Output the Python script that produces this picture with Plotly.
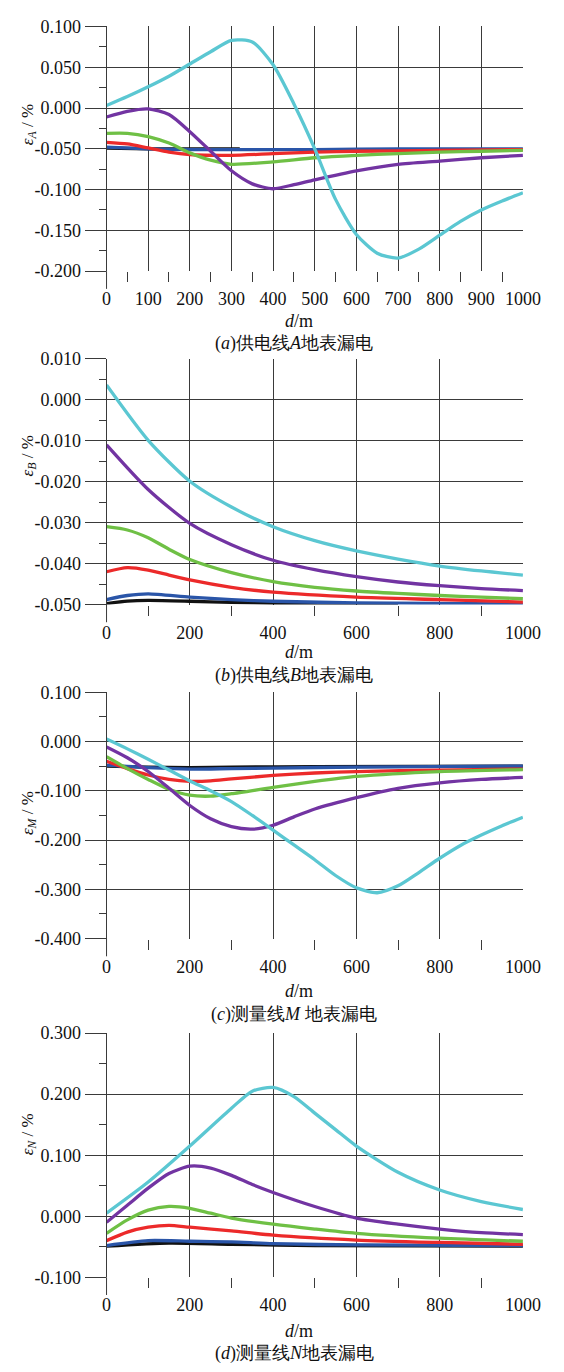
import plotly.graph_objects as go

# ---------------- data ----------------
# (a) supply line A
xa_cyan = [0, 50, 100, 150, 200, 250, 300, 350, 400, 450, 500, 550, 600, 650, 700, 750, 800, 850, 900, 950, 1000]
ya_cyan = [0.003, 0.014, 0.026, 0.039, 0.054, 0.069, 0.083, 0.081, 0.053, 0.005, -0.050, -0.112, -0.155, -0.178, -0.184, -0.173, -0.156, -0.139, -0.125, -0.114, -0.104]
xa_purple = [0, 50, 100, 150, 200, 250, 300, 350, 400, 450, 500, 600, 700, 800, 900, 1000]
ya_purple = [-0.011, -0.004, -0.001, -0.008, -0.029, -0.053, -0.077, -0.093, -0.099, -0.094, -0.088, -0.077, -0.069, -0.065, -0.061, -0.058]
xa_green = [0, 50, 100, 150, 200, 250, 300, 400, 500, 600, 700, 800, 900, 1000]
ya_green = [-0.031, -0.031, -0.035, -0.043, -0.055, -0.064, -0.069, -0.066, -0.061, -0.058, -0.056, -0.054, -0.053, -0.052]
xa_red = [0, 50, 100, 150, 200, 300, 400, 500, 600, 800, 1000]
ya_red = [-0.042, -0.044, -0.049, -0.054, -0.057, -0.058, -0.056, -0.054, -0.053, -0.052, -0.051]
xa_blue = [0, 100, 200, 300, 500, 700, 1000]
ya_blue = [-0.048, -0.050, -0.051, -0.051, -0.051, -0.050, -0.050]
xa_black = [0, 100, 200, 320]
ya_black = [-0.049, -0.050, -0.050, -0.050]

# (b) supply line B
xb = [0, 100, 200, 300, 400, 500, 600, 700, 800, 900, 1000]
yb_cyan = [0.0036, -0.0099, -0.0199, -0.0262, -0.0310, -0.0344, -0.0369, -0.0389, -0.0406, -0.0418, -0.0428]
yb_purple = [-0.0110, -0.0219, -0.0302, -0.0354, -0.0392, -0.0415, -0.0432, -0.0445, -0.0454, -0.0461, -0.0466]
xb_green = [0, 50, 100, 150, 200, 300, 400, 500, 600, 700, 800, 900, 1000]
yb_green = [-0.0310, -0.0318, -0.0337, -0.0365, -0.0390, -0.0422, -0.0444, -0.0458, -0.0467, -0.0473, -0.0478, -0.0482, -0.0486]
xb_red = [0, 50, 100, 150, 200, 300, 400, 600, 800, 1000]
yb_red = [-0.0420, -0.0410, -0.0416, -0.0428, -0.0440, -0.0458, -0.0470, -0.0482, -0.0488, -0.0494]
xb_blue = [0, 50, 100, 200, 300, 400, 600, 1000]
yb_blue = [-0.0488, -0.0478, -0.0474, -0.0482, -0.0488, -0.0492, -0.0496, -0.0499]
xb_black = [0, 50, 100, 200, 300, 400, 700]
yb_black = [-0.0498, -0.0492, -0.0490, -0.0492, -0.0495, -0.0497, -0.0499]

# (c) measuring line M
xc_cyan = [0, 50, 100, 150, 200, 250, 300, 350, 400, 450, 500, 550, 600, 650, 700, 750, 800, 850, 900, 950, 1000]
yc_cyan = [0.005, -0.015, -0.036, -0.058, -0.080, -0.100, -0.122, -0.150, -0.180, -0.210, -0.240, -0.272, -0.297, -0.307, -0.293, -0.266, -0.237, -0.211, -0.190, -0.171, -0.154]
xc_purple = [0, 50, 100, 150, 200, 250, 300, 350, 400, 450, 500, 600, 700, 800, 900, 1000]
yc_purple = [-0.011, -0.033, -0.061, -0.095, -0.130, -0.157, -0.173, -0.178, -0.170, -0.153, -0.137, -0.114, -0.095, -0.084, -0.077, -0.073]
xc_green = [0, 50, 100, 150, 200, 250, 300, 400, 500, 600, 800, 1000]
yc_green = [-0.031, -0.055, -0.077, -0.097, -0.109, -0.111, -0.106, -0.093, -0.081, -0.071, -0.061, -0.057]
xc_red = [0, 50, 100, 150, 200, 250, 300, 400, 500, 600, 800, 1000]
yc_red = [-0.040, -0.055, -0.068, -0.077, -0.081, -0.080, -0.076, -0.069, -0.064, -0.061, -0.058, -0.056]
xc_blue = [0, 100, 200, 300, 400, 600, 1000]
yc_blue = [-0.048, -0.053, -0.056, -0.055, -0.054, -0.052, -0.050]
xc_black = [0, 100, 200, 300, 500, 1000]
yc_black = [-0.050, -0.052, -0.053, -0.052, -0.051, -0.050]

# (d) measuring line N
xd_cyan = [0, 100, 200, 300, 350, 400, 450, 500, 550, 600, 700, 800, 900, 1000]
yd_cyan = [0.005, 0.056, 0.115, 0.177, 0.205, 0.211, 0.196, 0.169, 0.142, 0.115, 0.072, 0.043, 0.024, 0.011]
xd_purple = [0, 50, 100, 150, 200, 250, 300, 350, 400, 500, 600, 700, 800, 900, 1000]
yd_purple = [-0.010, 0.018, 0.046, 0.070, 0.082, 0.079, 0.067, 0.052, 0.039, 0.016, -0.003, -0.013, -0.021, -0.027, -0.030]
xd_green = [0, 50, 100, 150, 200, 250, 300, 400, 500, 600, 800, 1000]
yd_green = [-0.028, -0.006, 0.010, 0.016, 0.013, 0.005, -0.003, -0.013, -0.021, -0.028, -0.036, -0.041]
xd_red = [0, 50, 100, 150, 200, 300, 400, 600, 800, 1000]
yd_red = [-0.040, -0.026, -0.018, -0.015, -0.018, -0.024, -0.031, -0.039, -0.043, -0.046]
xd_blue = [0, 100, 200, 300, 400, 600, 1000]
yd_blue = [-0.048, -0.040, -0.041, -0.042, -0.045, -0.047, -0.048]
xd_black = [0, 150, 300, 500, 1000]
yd_black = [-0.049, -0.044, -0.046, -0.048, -0.049]

# tick labels
ya_ticks = [0.100, 0.050, 0.000, -0.050, -0.100, -0.150, -0.200]
ya_text = ["0.100", "0.050", "0.000", "-0.050", "-0.100", "-0.150", "-0.200"]
yb_ticks = [0.010, 0.000, -0.010, -0.020, -0.030, -0.040, -0.050]
yb_text = ["0.010", "0.000", "-0.010", "-0.020", "-0.030", "-0.040", "-0.050"]
yc_ticks = [0.100, 0.000, -0.100, -0.200, -0.300, -0.400]
yc_text = ["0.100", "0.000", "-0.100", "-0.200", "-0.300", "-0.400"]
yd_ticks = [0.300, 0.200, 0.100, 0.000, -0.100]
yd_text = ["0.300", "0.200", "0.100", "0.000", "-0.100"]

captions = ["(<i>a</i>)供电线<i>A</i>地表漏电", "(<i>b</i>)供电线<i>B</i>地表漏电",
            "(<i>c</i>)测量线<i>M</i> 地表漏电", "(<i>d</i>)测量线<i>N</i>地表漏电"]
ylabels = ["A", "B", "M", "N"]

# ---------------- style ----------------
COL = dict(cyan="#5bc7d2", purple="#7234a2", green="#6fc045", red="#ec2a2a", blue="#2a55a8", black="#111111")
W, H = 564, 1372
FONT = "Liberation Serif, Times New Roman, serif"
GRID = "#3a3a3a"

panels = [
    dict(top=16.7, bot=265.0, rng=[-0.2, 0.1], ticks=(ya_ticks, ya_text), ydt=0.025, xdt=100,
         dm_y=316, cap_y=338, lab_y=116),
    dict(top=354.0, bot=603.3, rng=[-0.05, 0.01], ticks=(yb_ticks, yb_text), ydt=0.005, xdt=200,
         dm_y=652, cap_y=675, lab_y=452),
    dict(top=692.3, bot=942.3, rng=[-0.4, 0.1], ticks=(yc_ticks, yc_text), ydt=0.05, xdt=200,
         dm_y=996, cap_y=1019, lab_y=815),
    dict(top=1038.3, bot=1286.0, rng=[-0.1, 0.3], ticks=(yd_ticks, yd_text), ydt=0.05, xdt=200,
         dm_y=1341, cap_y=1363, lab_y=1141),
]
XL, XR = 106.7, 540.0

series = [
    [(xa_black, ya_black, "black"), (xa_blue, ya_blue, "blue"), (xa_red, ya_red, "red"),
     (xa_green, ya_green, "green"), (xa_purple, ya_purple, "purple"), (xa_cyan, ya_cyan, "cyan")],
    [(xb_black, yb_black, "black"), (xb_blue, yb_blue, "blue"), (xb_red, yb_red, "red"),
     (xb_green, yb_green, "green"), (xb, yb_purple, "purple"), (xb, yb_cyan, "cyan")],
    [(xc_black, yc_black, "black"), (xc_blue, yc_blue, "blue"), (xc_red, yc_red, "red"),
     (xc_green, yc_green, "green"), (xc_purple, yc_purple, "purple"), (xc_cyan, yc_cyan, "cyan")],
    [(xd_black, yd_black, "black"), (xd_blue, yd_blue, "blue"), (xd_red, yd_red, "red"),
     (xd_green, yd_green, "green"), (xd_purple, yd_purple, "purple"), (xd_cyan, yd_cyan, "cyan")],
]

fig = go.Figure()
TF = dict(family=FONT, size=18, color="#111")
layout = dict(width=W, height=H, margin=dict(l=0, r=0, t=0, b=0), showlegend=False,
              paper_bgcolor="white", plot_bgcolor="white", font=TF)
annotations = []
shapes = []


def py(px):
    return 1 - px / H


for i, p in enumerate(panels):
    n = "" if i == 0 else str(i + 1)
    xa, yaname = "x" + n, "y" + n
    for xs, ys, c in series[i]:
        fig.add_trace(go.Scatter(x=xs, y=ys, mode="lines",
                                 line=dict(color=COL[c], width=3.3, shape="spline", smoothing=0.7),
                                 xaxis=xa, yaxis=yaname, hoverinfo="skip"))
    tv, tt = p["ticks"]
    layout["xaxis" + n] = dict(domain=[XL / W, XR / W], anchor=yaname, range=[0, 1000], dtick=p["xdt"], tick0=0,
                              showgrid=True, gridcolor=GRID, gridwidth=1, zeroline=False, showline=False,
                              ticks="", ticklabelstandoff=15, tickfont=TF,
                              minor=dict(dtick=p["xdt"] / 2, tick0=0, ticks="outside", ticklen=10,
                                         tickcolor=GRID, tickwidth=1, showgrid=False))
    layout["yaxis" + n] = dict(domain=[py(p["bot"]), py(p["top"])], anchor=xa, range=p["rng"],
                              tickmode="array", tickvals=tv, ticktext=tt,
                              showgrid=True, gridcolor=GRID, gridwidth=1, zeroline=False,
                              showline=True, linecolor=GRID, linewidth=1,
                              ticks="outside", ticklen=21, tickcolor=GRID, tickwidth=1,
                              ticklabelstandoff=0, tickfont=TF,
                              minor=dict(dtick=p["ydt"], tick0=0, ticks="outside", ticklen=7,
                                         tickcolor=GRID, tickwidth=1, showgrid=False))
    shapes.append(dict(type="line", xref="paper", yref="paper", x0=XL / W, x1=XL / W,
                       y0=py(p["bot"]), y1=py(p["bot"] + 18), line=dict(color=GRID, width=1)))
    annotations.append(dict(text="<i>d</i>/m", xref="paper", yref="paper", x=307 / W, y=py(p["dm_y"]),
                            showarrow=False, font=TF, xanchor="center", yanchor="middle"))
    annotations.append(dict(text=captions[i], xref="paper", yref="paper", x=302 / W, y=py(p["cap_y"]),
                            showarrow=False, font=TF, xanchor="center", yanchor="middle"))
    annotations.append(dict(text="<i>ε</i><sub><i>%s</i></sub> / %%" % ylabels[i], xref="paper", yref="paper",
                            x=26 / W, y=py(p["lab_y"]), textangle=-90, showarrow=False,
                            font=dict(family=FONT, size=17, color="#111"),
                            xanchor="center", yanchor="middle"))

layout["annotations"] = annotations
layout["shapes"] = shapes
fig.update_layout(**layout)
fig.write_html("out.html", config={"displayModeBar": False, "staticPlot": True},
               post_script="document.body.style.margin='0px';document.body.style.overflow='hidden';")
